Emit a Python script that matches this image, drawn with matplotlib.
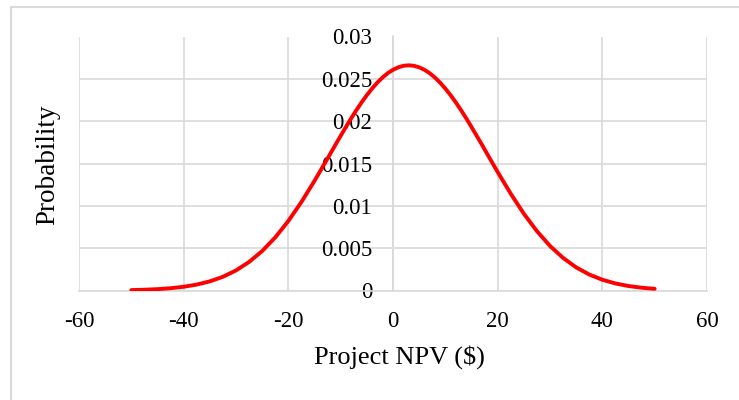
import matplotlib
matplotlib.use("Agg")
import matplotlib.pyplot as plt
from matplotlib.lines import Line2D

# NPV distribution; finer steps across the peak
npv = [-50, -47.5, -45, -42.5, -40, -37.5, -35, -32.5, -30, -27.5, -25,
       -22.5, -20, -17.5, -15, -12,
       -11, -10, -9, -8, -7, -6, -5, -4, -3, -2, -1, 0,
       1, 2, 3, 4, 5, 6, 7, 8, 9, 10,
       11, 12, 13, 14, 15, 16, 17, 18,
       20, 22.5, 25, 27.5, 30, 32.5, 35, 37.5, 40, 42.5, 45, 47.5, 50]
prob = [0.00005, 0.00009, 0.00016, 0.00027, 0.00044, 0.00070, 0.00108, 0.00162,
        0.00237, 0.00337, 0.00466, 0.00627, 0.00821, 0.01045, 0.01295, 0.01613,
        0.01721, 0.01827, 0.01931, 0.02033, 0.02130, 0.02222, 0.02307, 0.02385,
        0.02455, 0.02516, 0.02567, 0.02607,
        0.02636, 0.02654, 0.02660, 0.02654, 0.02636, 0.02607, 0.02567, 0.02516,
        0.02455, 0.02385,
        0.02307, 0.02222, 0.02130, 0.02033, 0.01931, 0.01827, 0.01721, 0.01613,
        0.01399, 0.01143, 0.00907, 0.00701, 0.00526, 0.00385, 0.00273, 0.00189,
        0.00127, 0.00083, 0.00053, 0.00033, 0.00020]

x_ticks = [-60, -40, -20, 0, 20, 40, 60]
y_ticks = [0, 0.005, 0.01, 0.015, 0.02, 0.025, 0.03]
y_labels = ["0", "0.005", "0.01", "0.015", "0.02", "0.025", "0.03"]

plt.rcParams['font.family'] = ['Liberation Serif', 'DejaVu Serif']
grey = '#d9d9d9'

fig = plt.figure(figsize=(7.39, 4.0), dpi=100)
ax = fig.add_axes([0.1069, 0.27375, 0.8498, 0.635])

ax.plot(npv, prob, color='#ff0000', lw=2.8, solid_capstyle='round',
        solid_joinstyle='round', zorder=3)

ax.set_xlim(-60, 60)
ax.set_ylim(0, 0.03)
ax.set_xticks(x_ticks)
ax.set_xticklabels([str(v) for v in x_ticks])
ax.set_yticks(y_ticks)
ax.set_yticklabels(y_labels)
ax.grid(True, color=grey, lw=1.2)
ax.set_axisbelow(True)

for s in ['top', 'right']:
    ax.spines[s].set_visible(False)
ax.spines['left'].set_position(('data', 0))
ax.spines['left'].set_color(grey)
ax.spines['left'].set_linewidth(1.2)
ax.spines['bottom'].set_color(grey)
ax.spines['bottom'].set_linewidth(1.2)

ax.tick_params(axis='both', length=0, labelsize=16.5, colors='black')
ax.tick_params(axis='y', pad=15)
ax.tick_params(axis='x', pad=15)

ax.set_xlabel('Project NPV ($)', fontsize=19, va='center')
ax.xaxis.set_label_coords(0.51, -0.26)
fig.text(48 / 739, 1 - 165 / 400, 'Probability', rotation=90,
         fontsize=19.5, ha='center', va='center')

# outer chart border (left and top edges)
fig.add_artist(Line2D([11 / 739, 11 / 739], [-0.01, 1 - 7 / 400],
                      color=grey, lw=1.5, transform=fig.transFigure))
fig.add_artist(Line2D([11 / 739, 1.01], [1 - 7 / 400, 1 - 7 / 400],
                      color=grey, lw=1.5, transform=fig.transFigure))

fig.savefig('out.png', dpi=100)
